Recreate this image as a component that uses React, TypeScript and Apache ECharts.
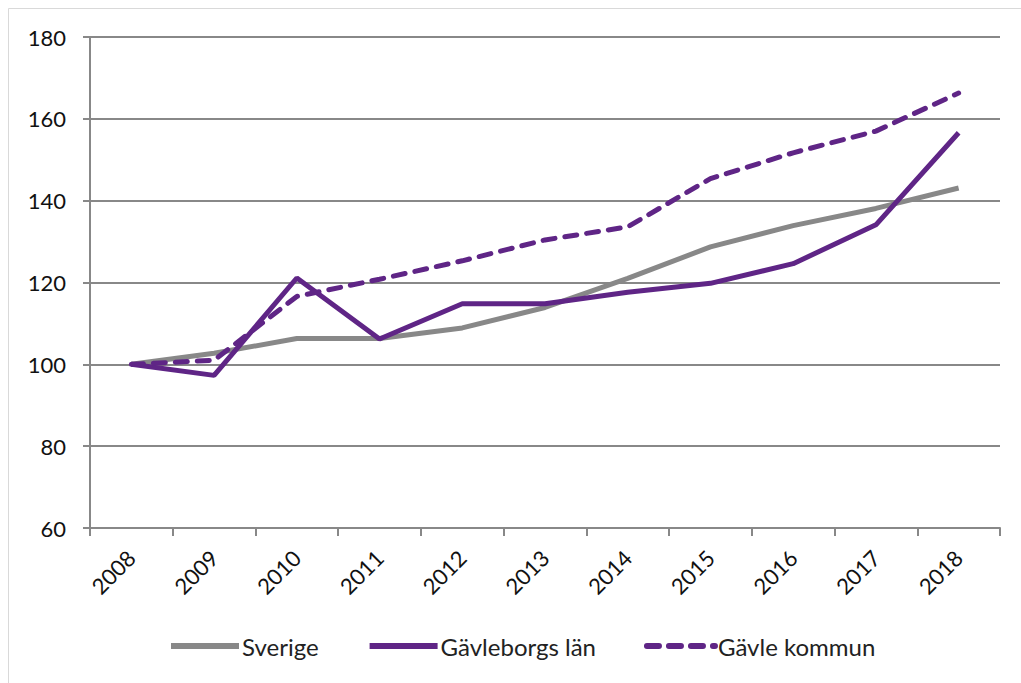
import React, { useEffect, useRef } from "react";
import * as echarts from "echarts";

const years = ["2008", "2009", "2010", "2011", "2012", "2013", "2014", "2015", "2016", "2017", "2018"];
const sverige = [100, 102.7, 106.3, 106.3, 108.9, 113.9, 121.0, 128.7, 133.9, 138.1, 143.1];
const gavleborg = [100, 97.3, 121.1, 106.2, 114.8, 114.8, 117.6, 119.8, 124.6, 134.1, 156.6];
const gavleKommun = [100, 101.0, 116.6, 120.8, 125.3, 130.4, 133.6, 145.4, 151.7, 157.0, 166.3];
const seriesNames = ["Sverige", "Gävleborgs län", "Gävle kommun"];

const PURPLE = "#5f2586";
const GRAY = "#888888";
const FONT = "Lato";

export default function App() {
  const ref = useRef<HTMLDivElement>(null);
  useEffect(() => {
    if (!ref.current) return;
    const chart = echarts.init(ref.current, undefined, { renderer: "svg" });
    chart.setOption({
      animation: false,
      backgroundColor: "#ffffff",
      textStyle: { fontFamily: FONT },
      graphic: [
        { type: "line", shape: { x1: 8.5, y1: 8.5, x2: 1021, y2: 8.5 }, style: { stroke: "#d9d9d9", lineWidth: 1 } },
        { type: "line", shape: { x1: 8.5, y1: 8.5, x2: 8.5, y2: 683 }, style: { stroke: "#d9d9d9", lineWidth: 1 } },
      ],
      grid: { left: 90, right: 21, top: 37, bottom: 155, containLabel: false },
      legend: {
        bottom: 20,
        left: 163,
        itemWidth: 68,
        itemHeight: 14,
        itemGap: 48,
        itemStyle: { opacity: 0 },
        lineStyle: { width: 6 },
        textStyle: { fontSize: 24, color: "#222", fontFamily: FONT, padding: [0, 0, 0, -2] },
        data: seriesNames,
      },
      xAxis: {
        type: "category",
        data: years,
        boundaryGap: true,
        axisLine: { lineStyle: { color: GRAY, width: 2 } },
        axisTick: { show: true, length: 8, lineStyle: { color: GRAY, width: 2 } },
        axisLabel: { rotate: 45, fontSize: 22, color: "#111", margin: 26, fontFamily: FONT },
      },
      yAxis: {
        type: "value",
        min: 60,
        max: 180,
        interval: 20,
        axisLine: { show: true, lineStyle: { color: GRAY, width: 2 } },
        axisTick: { show: true, length: 7, lineStyle: { color: GRAY, width: 2 } },
        axisLabel: { fontSize: 22, color: "#111", margin: 24, fontFamily: FONT },
        splitLine: { lineStyle: { color: GRAY, width: 2 } },
      },
      series: [
        {
          name: seriesNames[0],
          type: "line",
          data: sverige,
          symbol: "none",
          color: GRAY,
          lineStyle: { color: GRAY, width: 5 },
        },
        {
          name: seriesNames[1],
          type: "line",
          data: gavleborg,
          symbol: "none",
          color: PURPLE,
          lineStyle: { color: PURPLE, width: 5 },
        },
        {
          name: seriesNames[2],
          type: "line",
          data: gavleKommun,
          symbol: "none",
          color: PURPLE,
          lineStyle: { color: PURPLE, width: 5, type: [12, 10], cap: "round" },
        },
      ],
    });
    return () => chart.dispose();
  }, []);
  return <div ref={ref} style={{ position: "fixed", left: 0, top: 0, width: 1021, height: 683 }} />;
}
